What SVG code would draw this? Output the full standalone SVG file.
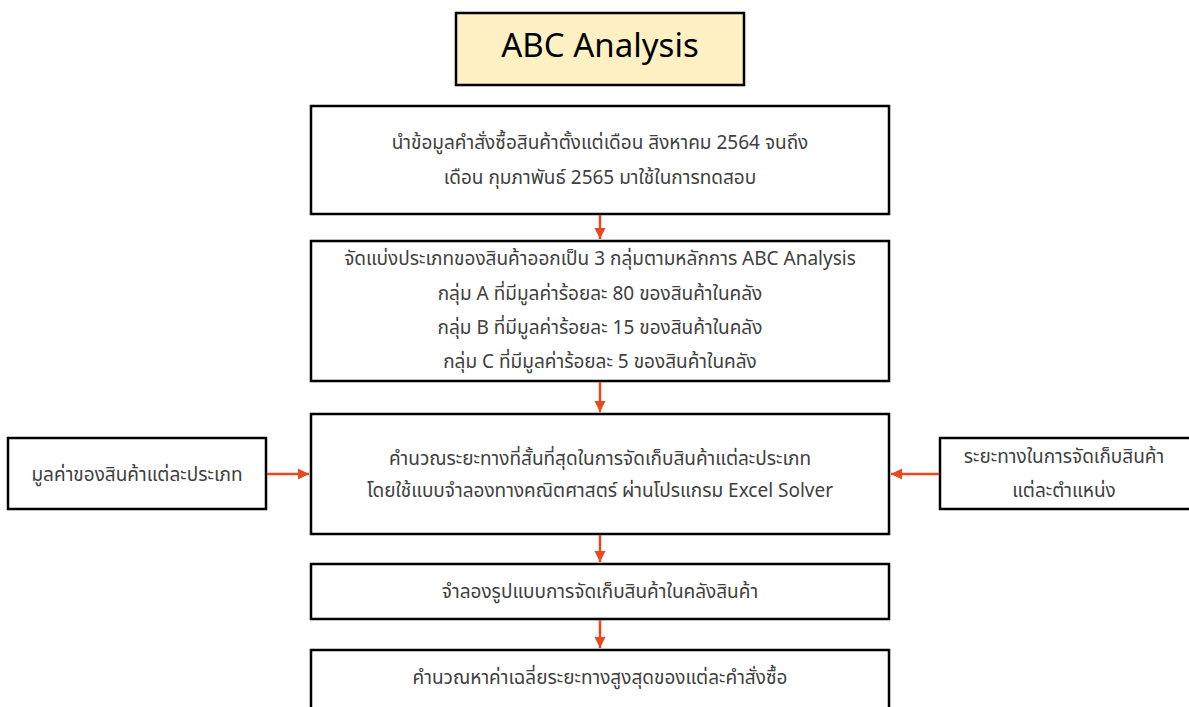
<svg xmlns="http://www.w3.org/2000/svg" width="1189" height="707" viewBox="0 0 1189 707">
<defs>
<marker id="ah" viewBox="0 0 10 10" refX="10" refY="5" markerWidth="4.5" markerHeight="4.5" orient="auto" markerUnits="strokeWidth">
<path d="M0,0 L10,5 L0,10 z" fill="#E8481E"/>
</marker>
<style>
.box{fill:#ffffff;stroke:#000000;stroke-width:2.5}
.title{fill:#FDF0C3;stroke:#000000;stroke-width:2.5}
.t{font-family:"Noto Sans Thai","Tahoma","Noto Sans","DejaVu Sans",sans-serif;font-size:19px;fill:#404040;text-anchor:middle}
.h{font-family:"Noto Sans","DejaVu Sans",sans-serif;font-size:33px;fill:#000000;text-anchor:middle}
.c{stroke:#E8481E;stroke-width:2.5;fill:none;marker-end:url(#ah)}
</style>
</defs>
<rect width="1189" height="707" fill="#ffffff"/>
<g id="title">
<rect class="title" x="456" y="13" width="288" height="72"/>
<text class="h" x="600" y="57">ABC Analysis</text>
</g>
<g id="n1">
<rect class="box" x="311" y="106" width="578" height="108"/>
<text class="t" x="600" y="149">นำข้อมูลคำสั่งซื้อสินค้าตั้งแต่เดือน สิงหาคม 2564 จนถึง</text>
<text class="t" x="600" y="184">เดือน กุมภาพันธ์ 2565 มาใช้ในการทดสอบ</text>
</g>
<g id="n2">
<rect class="box" x="311" y="241" width="578" height="140"/>
<text class="t" x="600" y="265">จัดแบ่งประเภทของสินค้าออกเป็น 3 กลุ่มตามหลักการ ABC Analysis</text>
<text class="t" x="600" y="300">กลุ่ม A ที่มีมูลค่าร้อยละ 80 ของสินค้าในคลัง</text>
<text class="t" x="600" y="334">กลุ่ม B ที่มีมูลค่าร้อยละ 15 ของสินค้าในคลัง</text>
<text class="t" x="600" y="368">กลุ่ม C ที่มีมูลค่าร้อยละ 5 ของสินค้าในคลัง</text>
</g>
<g id="n3">
<rect class="box" x="311" y="414" width="578" height="120"/>
<text class="t" x="600" y="465">คำนวณระยะทางที่สั้นที่สุดในการจัดเก็บสินค้าแต่ละประเภท</text>
<text class="t" x="600" y="497">โดยใช้แบบจำลองทางคณิตศาสตร์ ผ่านโปรแกรม Excel Solver</text>
</g>
<g id="left">
<rect class="box" x="8" y="438" width="258" height="71"/>
<text class="t" x="137" y="481">มูลค่าของสินค้าแต่ละประเภท</text>
</g>
<g id="right">
<rect class="box" x="940" y="438" width="260" height="71"/>
<text class="t" x="1064" y="463">ระยะทางในการจัดเก็บสินค้า</text>
<text class="t" x="1064" y="497">แต่ละตำแหน่ง</text>
</g>
<g id="n4">
<rect class="box" x="311" y="564" width="578" height="55"/>
<text class="t" x="600" y="598">จำลองรูปแบบการจัดเก็บสินค้าในคลังสินค้า</text>
</g>
<g id="n5">
<rect class="box" x="311" y="650" width="578" height="70"/>
<text class="t" x="600" y="684">คำนวณหาค่าเฉลี่ยระยะทางสูงสุดของแต่ละคำสั่งซื้อ</text>
</g>
<g id="connectors">
<line class="c" x1="600" y1="215" x2="600" y2="239"/>
<line class="c" x1="600" y1="382" x2="600" y2="412"/>
<line class="c" x1="267" y1="474" x2="309" y2="474"/>
<line class="c" x1="939" y1="474" x2="891" y2="474"/>
<line class="c" x1="600" y1="535" x2="600" y2="562"/>
<line class="c" x1="600" y1="620" x2="600" y2="648"/>
</g>
</svg>
